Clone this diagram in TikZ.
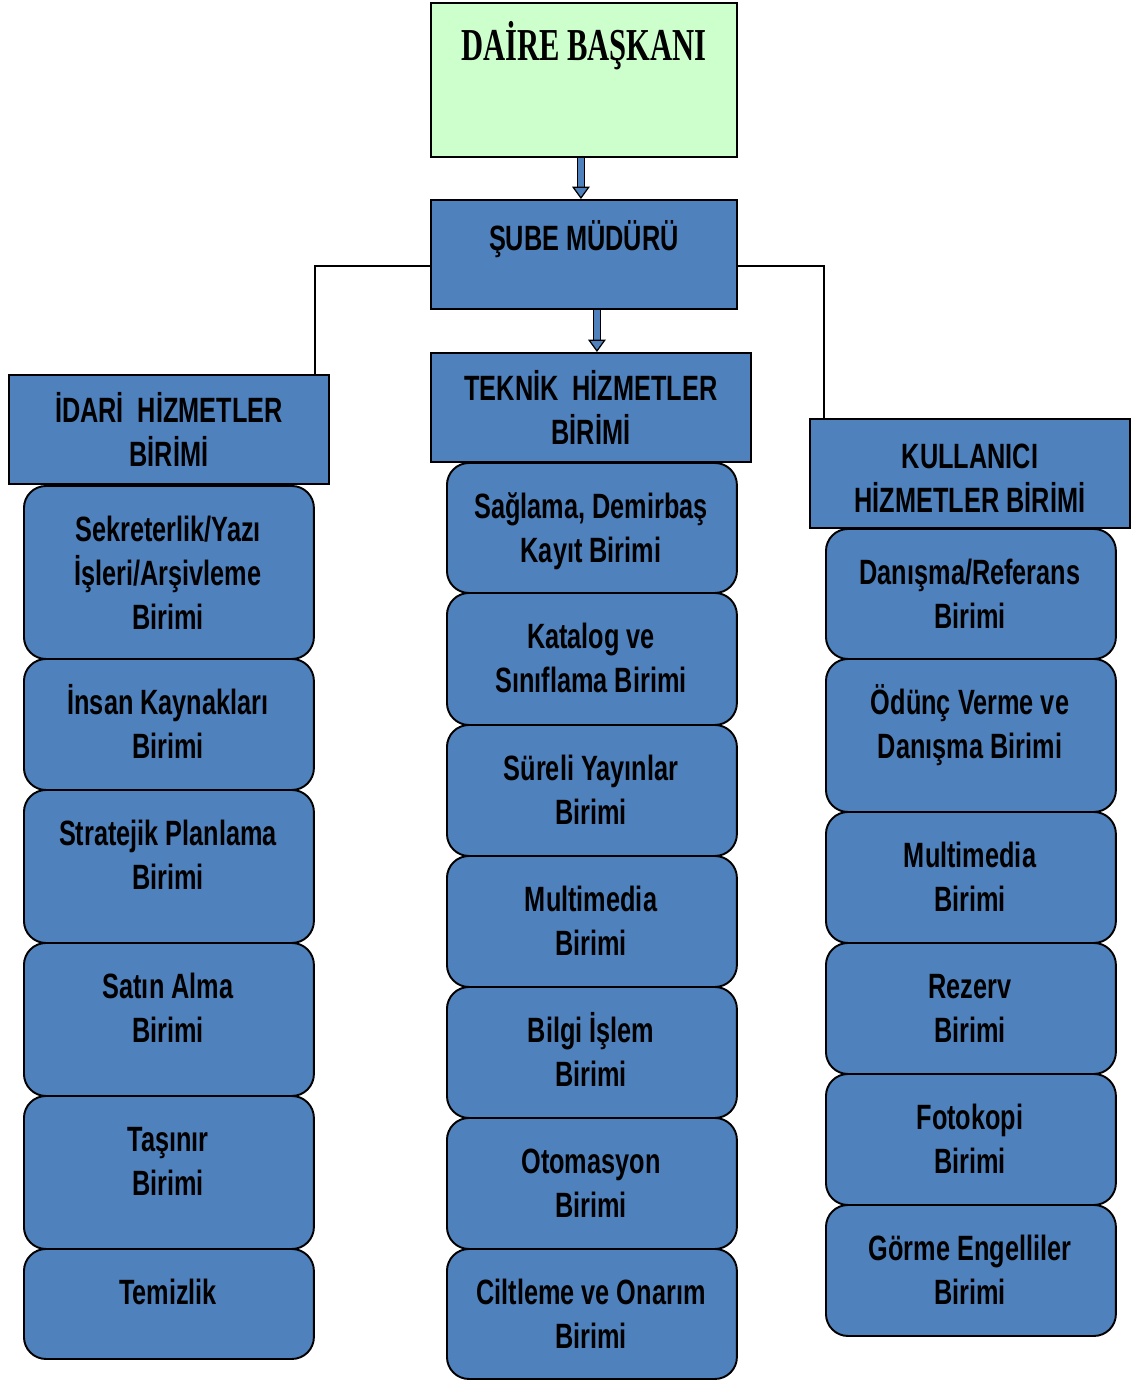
\documentclass[tikz,border=0pt]{standalone}
\usepackage{fontspec}
\newfontfamily\unitfont[FakeStretch=0.72]{Liberation Sans}
\newfontfamily\chieffont[FakeStretch=0.67]{Liberation Serif}
\usetikzlibrary{arrows.meta,positioning,calc}
\definecolor{unitblue}{HTML}{4F81BD}
\definecolor{chiefgreen}{HTML}{CCFFCC}
\tikzset{
  chiefbox/.style={draw=black, line width=1.1pt, fill=chiefgreen, anchor=north west, inner sep=0pt, minimum width=6.12cm, text height=1.16cm, text depth=1.92cm, font=\chieffont\bfseries\fontsize{26}{28}\selectfont},
  headbox/.style={draw=black, line width=1.1pt, fill=unitblue, anchor=north west, inner sep=0pt, minimum width=6.4cm, minimum height=2.18cm, align=center, font=\unitfont\bfseries\fontsize{20}{25}\selectfont},
  unitbox/.style={draw=black, line width=1.1pt, fill=unitblue, rounded corners=0.44cm, anchor=north west, inner sep=0pt, minimum width=5.8cm},
  unittext/.style={anchor=north, align=center, inner sep=0pt, font=\unitfont\bfseries\fontsize{20}{25}\selectfont},
  orgline/.style={draw=black, line width=1.1pt},
  blockarrow/.style={draw=black, double=unitblue, double distance=3.5pt, line width=0.7pt, -{Triangle[length=7pt,width=10pt,fill=unitblue]}}
}
\newcommand{\firstline}{\rule{0pt}{19pt}}
\begin{document}
\begin{tikzpicture}[x=0.02cm, y=-0.02cm]
  \useasboundingbox (0,0) rectangle (1131,1380);
  % top of the chart
  \node[chiefbox] (daire) at (430,2) {DAİRE BAŞKANI};
  \node[headbox, minimum width=6.12cm, minimum height=0pt, text height=1.01cm, text depth=1.17cm] (sube) at (430,199) {ŞUBE MÜDÜRÜ};
  % the three departments
  \node[headbox] (idari) at (8,374) {İDARİ\ \ HİZMETLER\\BİRİMİ};
  \node[headbox] (teknik) at (430,352) {TEKNİK\ \ HİZMETLER\\BİRİMİ};
  \node[headbox] (kullanici) at (809,418) {\firstline KULLANICI\\HİZMETLER BİRİMİ};
  % units of each department
  \foreach \n/\ya/\yb/\txt in {
    1/485/658/{Sekreterlik/Yazı\\İşleri/Arşivleme\\Birimi},
    2/658/789/{İnsan Kaynakları\\Birimi},
    3/789/942/{Stratejik Planlama\\Birimi},
    4/942/1095/{Satın Alma\\Birimi},
    5/1095/1248/{Taşınır\\Birimi},
    6/1248/1358/{Temizlik}}{
    \node[unitbox, minimum height={(\yb-\ya)*0.02cm}] (idari\n) at (23,\ya) {};
    \node[unittext] (idari\n-t) at (168,\ya+23) {\firstline\txt};
  }
  \foreach \n/\ya/\yb/\txt in {
    1/462/592/{Sağlama, Demirbaş\\Kayıt Birimi},
    2/592/724/{Katalog ve\\Sınıflama Birimi},
    3/724/855/{Süreli Yayınlar\\Birimi},
    4/855/986/{Multimedia\\Birimi},
    5/986/1117/{Bilgi İşlem\\Birimi},
    6/1117/1248/{Otomasyon\\Birimi},
    7/1248/1378/{Ciltleme ve Onarım\\Birimi}}{
    \node[unitbox, minimum height={(\yb-\ya)*0.02cm}] (teknik\n) at (446,\ya) {};
    \node[unittext] (teknik\n-t) at (591,\ya+23) {\firstline\txt};
  }
  \foreach \n/\ya/\yb/\txt in {
    1/528/658/{Danışma/Referans\\Birimi},
    2/658/811/{Ödünç Verme ve\\Danışma Birimi},
    3/811/942/{Multimedia\\Birimi},
    4/942/1073/{Rezerv\\Birimi},
    5/1073/1204/{Fotokopi\\Birimi},
    6/1204/1335/{Görme Engelliler\\Birimi}}{
    \node[unitbox, minimum height={(\yb-\ya)*0.02cm}] (kullanici\n) at (825,\ya) {};
    \node[unittext] (kullanici\n-t) at (970,\ya+23) {\firstline\txt};
  }
  % connectors
  \draw[blockarrow] ([xshift=-0.06cm]daire.south) -- ([xshift=-0.06cm]sube.north);
  \draw[blockarrow] ([xshift=0.26cm]sube.south) -- ([xshift=0.26cm]sube.south |- teknik.north);
  \draw[orgline] ([yshift=-0.23cm]sube.west) -| ([xshift=2.92cm]idari.north);
  \draw[orgline] ([yshift=-0.23cm]sube.east) -| ([xshift=0.3cm]kullanici.north west);
\end{tikzpicture}
\end{document}
